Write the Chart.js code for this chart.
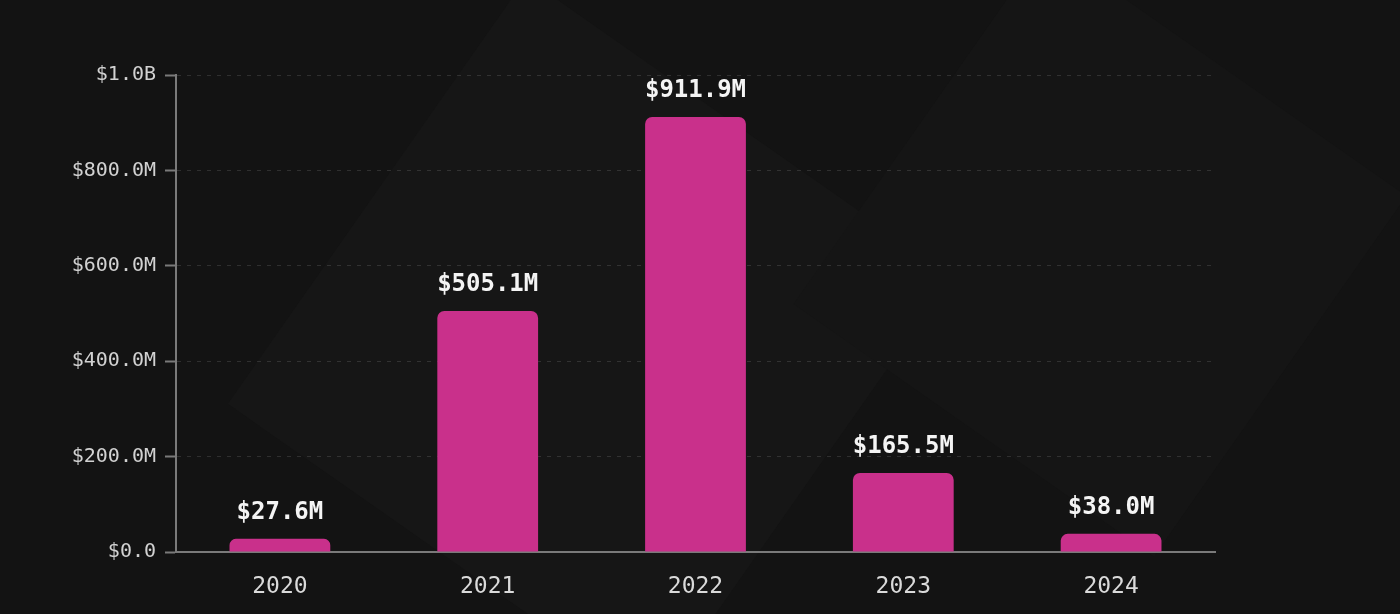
<!DOCTYPE html>
<html>
<head>
<meta charset="utf-8">
<script src="https://cdn.jsdelivr.net/npm/chart.js@4/dist/chart.umd.min.js"></script>
<style>
    html,body{margin:0;padding:0;background:#131313;overflow:hidden;}
    #wrap{position:relative;width:1400px;height:614px;overflow:hidden;background:#131313;}
    .shape{position:absolute;background:#161616;transform:rotate(35deg);}
    #chart{position:absolute;left:0;top:0;}
</style>
</head>
<body>
<div id="wrap">
    <div class="shape" style="left:330px;top:80px;width:520px;height:520px;"></div>
    <div class="shape" style="left:880px;top:30px;width:440px;height:440px;background:#151515;"></div>
    <canvas id="chart" width="1400" height="614"></canvas>
</div>
<script>
// =========================================
// Data
// =========================================

const years = ["2020","2021","2022","2023","2024"];

const amounts = [27.6e6, 505.1e6, 911.9e6, 165.5e6, 38.0e6];

const yTicks = [0, 200e6, 400e6, 600e6, 800e6, 1e9];

const MONO = "'DejaVu Sans Mono', monospace";

function money(v){

    if(v >= 1e9) return "$" + (v/1e9).toFixed(1) + "B";

    if(v === 0) return "$0.0";

    return "$" + (v/1e6).toFixed(1) + "M";

}

// =========================================
// Value labels above bars
// =========================================

const barLabels = {

    id:"barLabels",

    afterDatasetsDraw(chart){

        const ctx = chart.ctx;

        const meta = chart.getDatasetMeta(0);

        ctx.save();

        ctx.font = "bold 24px " + MONO;

        ctx.fillStyle = "#f4f4f4";

        ctx.textAlign = "center";

        ctx.textBaseline = "middle";

        meta.data.forEach((bar,i)=>{

            ctx.fillText(money(amounts[i]), bar.x, bar.y - 26);

        });

        ctx.restore();

    }

};

// =========================================
// Chart
// =========================================

new Chart(document.getElementById("chart"),{

    type:"bar",

    data:{

        labels:years,

        datasets:[{

            data:amounts,

            backgroundColor:"#c9308b",

            borderRadius:7,

            categoryPercentage:1,

            barPercentage:0.485

        }]

    },

    options:{

        responsive:false,

        animation:false,

        layout:{

            padding:{top:75,right:185,left:0,bottom:0}

        },

        plugins:{

            legend:{display:false},

            tooltip:{enabled:false}

        },

        scales:{

            x:{

                grid:{display:false},

                border:{display:true,color:"#7a7a7a",width:2},

                ticks:{color:"#dadada",font:{family:MONO,size:23},padding:13},

                afterFit(scale){ scale.height = 62; }

            },

            y:{

                min:0,

                max:1e9,

                afterBuildTicks(scale){

                    scale.ticks = yTicks.map(v=>({value:v}));

                },

                grid:{

                    color:"rgba(255,255,255,0.12)",

                    tickColor:"#7a7a7a",

                    tickLength:11,

                    tickWidth:2,

                    lineWidth:1

                },

                border:{display:true,color:"#7a7a7a",width:2,dash:[4,6]},

                ticks:{

                    color:"#d2d2d2",

                    font:{family:MONO,size:20},

                    padding:9,

                    callback:(v)=>money(v)

                },

                afterFit(scale){ scale.width = 176; }

            }

        }

    },

    plugins:[barLabels]

});
</script>
</body>
</html>
